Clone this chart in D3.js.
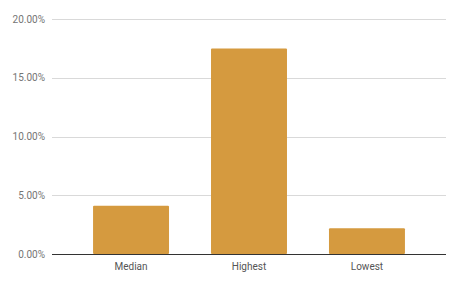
<!DOCTYPE html>
<html>
<head>
<meta charset="utf-8">
<script src="https://cdn.jsdelivr.net/npm/d3@7"></script>
<style>
  body { margin: 0; background: #fff; }
  text { font-family: Roboto, Arial, sans-serif; }
</style>
</head>
<body>
<svg id="svg"></svg>
<script>
const categories = ['Median', 'Highest', 'Lowest'];
const values = [0.041, 0.175, 0.022];
const yTicks = [0, 0.05, 0.10, 0.15, 0.20];

const width = 460;
const height = 284;
const margin = { top: 19, right: 14, bottom: 30, left: 52 };

const svg = d3.select('#svg').attr('width', width).attr('height', height);

const x = d3.scaleBand()
  .domain(categories)
  .range([margin.left, width - margin.right])
  .paddingInner(0.356)
  .paddingOuter(0.348);

const y = d3.scaleLinear()
  .domain([0, 0.20])
  .range([height - margin.bottom, margin.top]);

const fmt = d3.format('.2%');

// gridlines
svg.append('g')
  .selectAll('line')
  .data(yTicks.slice(1))
  .join('line')
  .attr('x1', margin.left)
  .attr('x2', width - margin.right)
  .attr('y1', d => Math.round(y(d)) + 0.5)
  .attr('y2', d => Math.round(y(d)) + 0.5)
  .attr('stroke', '#d9d9d9')
  .attr('stroke-width', 1);

// y labels
svg.append('g')
  .selectAll('text')
  .data(yTicks)
  .join('text')
  .attr('x', margin.left - 7)
  .attr('y', d => y(d))
  .attr('dy', '0.35em')
  .attr('text-anchor', 'end')
  .attr('font-size', 10)
  .attr('fill', '#757575')
  .text(d => fmt(d));

// bars
svg.append('g')
  .selectAll('rect')
  .data(values)
  .join('rect')
  .attr('x', (d, i) => x(categories[i]))
  .attr('width', x.bandwidth())
  .attr('y', d => y(d))
  .attr('height', d => y(0) - y(d))
  .attr('rx', 1)
  .attr('fill', '#d59a3f');

// baseline
svg.append('line')
  .attr('x1', margin.left)
  .attr('x2', width - margin.right)
  .attr('y1', Math.round(y(0)) + 0.5)
  .attr('y2', Math.round(y(0)) + 0.5)
  .attr('stroke', '#333')
  .attr('stroke-width', 1);

// x labels
svg.append('g')
  .selectAll('text')
  .data(categories)
  .join('text')
  .attr('x', d => x(d) + x.bandwidth() / 2)
  .attr('y', y(0) + 16)
  .attr('text-anchor', 'middle')
  .attr('font-size', 10)
  .attr('fill', '#555')
  .text(d => d);
</script>
</body>
</html>
